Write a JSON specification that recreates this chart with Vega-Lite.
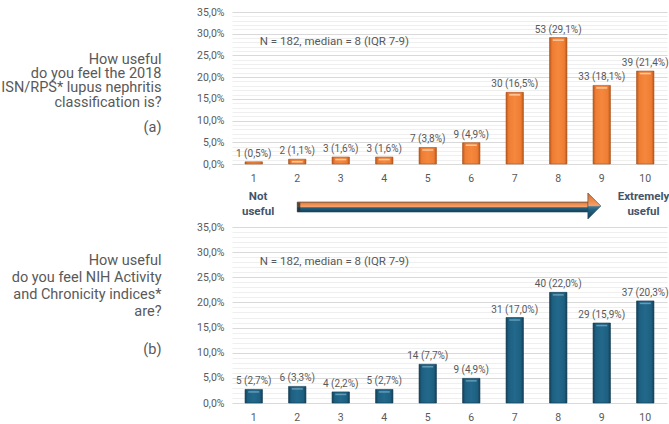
{
  "$schema": "https://vega.github.io/schema/vega-lite/v6.json",
  "background": "white",
  "padding": {"left": 0, "top": 7, "right": 0, "bottom": 0},
  "spacing": 0,
  "vconcat": [
    {
      "width": 435,
      "height": 152,
      "data": {"values": [
        {"score": 1, "n": 1, "pct": 0.5},
        {"score": 2, "n": 2, "pct": 1.1},
        {"score": 3, "n": 3, "pct": 1.6},
        {"score": 4, "n": 3, "pct": 1.6},
        {"score": 5, "n": 7, "pct": 3.8},
        {"score": 6, "n": 9, "pct": 4.9},
        {"score": 7, "n": 30, "pct": 16.5},
        {"score": 8, "n": 53, "pct": 29.1},
        {"score": 9, "n": 33, "pct": 18.1},
        {"score": 10, "n": 39, "pct": 21.4}
      ]},
      "encoding": {
        "x": {
          "field": "score", "type": "ordinal",
          "scale": {"paddingInner": 0.6, "paddingOuter": 0.3},
          "axis": {"title": null, "labelAngle": 0, "ticks": false, "domain": false, "grid": false, "labelPadding": 9, "labelFontSize": 10.5, "labelColor": "#595959"}
        }
      },
      "resolve": {"axis": {"y": "independent"}},
      "layer": [
        {
          "mark": {"type": "tick", "opacity": 0},
          "encoding": {
            "y": {
              "field": "pct", "type": "quantitative",
              "scale": {"domain": [0, 35], "nice": false},
              "axis": {
                "orient": "left",
                "values": [1,2,3,4,6,7,8,9,11,12,13,14,16,17,18,19,21,22,23,24,26,27,28,29,31,32,33,34],
                "grid": true, "gridColor": "#EFEFEF",
                "labels": false, "ticks": false, "domain": false,
                "title": "(a)",
                "titleAngle": 0, "titleAlign": "right", "titleBaseline": "alphabetic",
                "titleX": -71, "titleY": 119.5,
                "titleFontSize": 14.5, "titleFontWeight": "normal", "titleColor": "#595959"
              }
            }
          }
        },
        {
          "mark": {
            "type": "bar",
            "fill": {"gradient": "linear", "x1": 0, "y1": 0, "x2": 1, "y2": 0, "stops": [
              {"offset": 0, "color": "#B9561A"},
              {"offset": 0.15, "color": "#EE7D33"},
              {"offset": 0.5, "color": "#F5883D"},
              {"offset": 0.85, "color": "#EE7D33"},
              {"offset": 1, "color": "#B9561A"}
            ]},
            "stroke": "#A9501A",
            "strokeWidth": 0.6
          },
          "encoding": {
            "y": {
              "field": "pct", "type": "quantitative",
              "axis": {
                "orient": "left",
                "values": [0, 5, 10, 15, 20, 25, 30, 35],
                "labelExpr": "replace(format(datum.value, '.1f'), '.', ',') + '%'",
                "grid": true, "gridColor": "#D9D9D9",
                "ticks": false, "domain": false,
                "labelPadding": 8, "labelFontSize": 10.5, "labelColor": "#595959",
                "title": ["How useful", "do you feel the 2018", "ISN/RPS* lupus nephritis", "classification is?"],
                "titleAngle": 0, "titleAlign": "right", "titleBaseline": "alphabetic",
                "titleX": -71, "titleY": 51.5,
                "titleFontSize": 14.5, "titleFontWeight": "normal", "titleColor": "#595959", "titleLineHeight": 14.2
              }
            }
          }
        },
        {
          "mark": {"type": "tick", "orient": "horizontal", "size": 11, "thickness": 1.5, "color": "#FFC9A0", "yOffset": 2.5},
          "encoding": {
            "y": {"field": "pct", "type": "quantitative", "axis": null},
            "opacity": {"condition": {"test": "datum.pct < 1", "value": 0}, "value": 1}
          }
        },
        {
          "transform": [{"calculate": "datum.n + ' (' + replace(format(datum.pct, '.1f'), '.', ',') + '%)'", "as": "label"}],
          "mark": {"type": "text", "baseline": "bottom", "dy": -3, "fontSize": 10, "color": "#595959"},
          "encoding": {
            "y": {"field": "pct", "type": "quantitative", "axis": null},
            "text": {"field": "label"}
          }
        },
        {
          "data": {"values": [{"note": "N = 182, median = 8 (IQR 7-9)"}]},
          "mark": {"type": "text", "align": "left", "baseline": "middle", "dx": 6, "fontSize": 11.5, "color": "#595959"},
          "encoding": {
            "x": {"datum": 1, "type": "ordinal"},
            "y": {"datum": 28, "type": "quantitative", "axis": null},
            "text": {"field": "note"}
          }
        }
      ]
    },
    {
      "width": 435,
      "height": 38,
      "data": {"values": [{}]},
      "layer": [
        {
          "mark": {
            "type": "rect",
            "fill": {"gradient": "linear", "x1": 0, "y1": 0, "x2": 0, "y2": 1, "stops": [
              {"offset": 0, "color": "#D9702F"},
              {"offset": 0.2, "color": "#F08A48"},
              {"offset": 0.45, "color": "#F3A06A"},
              {"offset": 0.52, "color": "#5B8AA3"},
              {"offset": 0.6, "color": "#22607F"},
              {"offset": 1, "color": "#163F55"}
            ]},
            "stroke": "#1B4A63", "strokeWidth": 0.6
          },
          "encoding": {
            "x": {"datum": 2, "type": "quantitative", "scale": {"domain": [0.5, 10.5], "nice": false, "zero": false}, "axis": null},
            "x2": {"datum": 8.75},
            "y": {"datum": 18, "type": "quantitative", "scale": {"domain": [0, 38], "nice": false, "reverse": true}, "axis": null},
            "y2": {"datum": 28}
          }
        },
        {
          "mark": {"type": "rect", "fill": "#2E2E2E", "opacity": 0.75},
          "encoding": {
            "x": {"datum": 2, "type": "quantitative"},
            "x2": {"datum": 2.07},
            "y": {"datum": 18.5, "type": "quantitative"},
            "y2": {"datum": 27.5}
          }
        },
        {
          "mark": {
            "type": "point",
            "shape": "M-0.5,-1L0.5,0L-0.5,1Z",
            "size": 676,
            "filled": true,
            "opacity": 1,
            "fill": {"gradient": "linear", "x1": 0, "y1": 0, "x2": 0, "y2": 1, "stops": [
              {"offset": 0, "color": "#D9702F"},
              {"offset": 0.3, "color": "#F08A48"},
              {"offset": 0.48, "color": "#F3A06A"},
              {"offset": 0.53, "color": "#3F7896"},
              {"offset": 0.65, "color": "#22607F"},
              {"offset": 1, "color": "#163F55"}
            ]},
            "stroke": "#1B4A63", "strokeWidth": 0.6
          },
          "encoding": {
            "x": {"datum": 8.83, "type": "quantitative"},
            "y": {"datum": 22, "type": "quantitative"}
          }
        },
        {
          "mark": {"type": "text", "align": "center", "baseline": "alphabetic", "fontSize": 11.5, "fontWeight": "bold", "lineHeight": 15, "color": "#44546A"},
          "encoding": {
            "x": {"datum": 1.1, "type": "quantitative"},
            "y": {"datum": 16.3, "type": "quantitative"},
            "text": {"value": ["Not", "useful"]}
          }
        },
        {
          "mark": {"type": "text", "align": "center", "baseline": "alphabetic", "fontSize": 11.5, "fontWeight": "bold", "lineHeight": 15, "color": "#44546A"},
          "encoding": {
            "x": {"datum": 9.96, "type": "quantitative"},
            "y": {"datum": 16.3, "type": "quantitative"},
            "text": {"value": ["Extremely", "useful"]}
          }
        }
      ]
    },
    {
      "width": 435,
      "height": 176,
      "data": {"values": [
        {"score": 1, "n": 5, "pct": 2.7},
        {"score": 2, "n": 6, "pct": 3.3},
        {"score": 3, "n": 4, "pct": 2.2},
        {"score": 4, "n": 5, "pct": 2.7},
        {"score": 5, "n": 14, "pct": 7.7},
        {"score": 6, "n": 9, "pct": 4.9},
        {"score": 7, "n": 31, "pct": 17.0},
        {"score": 8, "n": 40, "pct": 22.0},
        {"score": 9, "n": 29, "pct": 15.9},
        {"score": 10, "n": 37, "pct": 20.3}
      ]},
      "encoding": {
        "x": {
          "field": "score", "type": "ordinal",
          "scale": {"paddingInner": 0.6, "paddingOuter": 0.3},
          "axis": {"title": null, "labelAngle": 0, "ticks": false, "domain": false, "grid": false, "labelPadding": 9, "labelFontSize": 10.5, "labelColor": "#595959"}
        }
      },
      "resolve": {"axis": {"y": "independent"}},
      "layer": [
        {
          "mark": {"type": "tick", "opacity": 0},
          "encoding": {
            "y": {
              "field": "pct", "type": "quantitative",
              "scale": {"domain": [0, 35], "nice": false},
              "axis": {
                "orient": "left",
                "values": [1,2,3,4,6,7,8,9,11,12,13,14,16,17,18,19,21,22,23,24,26,27,28,29,31,32,33,34],
                "grid": true, "gridColor": "#EFEFEF",
                "labels": false, "ticks": false, "domain": false,
                "title": "(b)",
                "titleAngle": 0, "titleAlign": "right", "titleBaseline": "alphabetic",
                "titleX": -71, "titleY": 126,
                "titleFontSize": 14.5, "titleFontWeight": "normal", "titleColor": "#595959"
              }
            }
          }
        },
        {
          "mark": {
            "type": "bar",
            "fill": {"gradient": "linear", "x1": 0, "y1": 0, "x2": 1, "y2": 0, "stops": [
              {"offset": 0, "color": "#123E55"},
              {"offset": 0.15, "color": "#1D5F80"},
              {"offset": 0.5, "color": "#23698C"},
              {"offset": 0.85, "color": "#1D5F80"},
              {"offset": 1, "color": "#123E55"}
            ]},
            "stroke": "#103A50",
            "strokeWidth": 0.6
          },
          "encoding": {
            "y": {
              "field": "pct", "type": "quantitative",
              "axis": {
                "orient": "left",
                "values": [0, 5, 10, 15, 20, 25, 30, 35],
                "labelExpr": "replace(format(datum.value, '.1f'), '.', ',') + '%'",
                "grid": true, "gridColor": "#D9D9D9",
                "ticks": false, "domain": false,
                "labelPadding": 8, "labelFontSize": 10.5, "labelColor": "#595959",
                "title": ["How useful", "do you feel NIH Activity", "and Chronicity indices*", "are?"],
                "titleAngle": 0, "titleAlign": "right", "titleBaseline": "alphabetic",
                "titleX": -71, "titleY": 37.5,
                "titleFontSize": 14.5, "titleFontWeight": "normal", "titleColor": "#595959", "titleLineHeight": 17
              }
            }
          }
        },
        {
          "mark": {"type": "tick", "orient": "horizontal", "size": 11, "thickness": 1.5, "color": "#7DB4CF", "yOffset": 2.5},
          "encoding": {
            "y": {"field": "pct", "type": "quantitative", "axis": null}
          }
        },
        {
          "transform": [{"calculate": "datum.n + ' (' + replace(format(datum.pct, '.1f'), '.', ',') + '%)'", "as": "label"}],
          "mark": {"type": "text", "baseline": "bottom", "dy": -3, "fontSize": 10, "color": "#595959"},
          "encoding": {
            "y": {"field": "pct", "type": "quantitative", "axis": null},
            "text": {"field": "label"}
          }
        },
        {
          "data": {"values": [{"note": "N = 182, median = 8 (IQR 7-9)"}]},
          "mark": {"type": "text", "align": "left", "baseline": "middle", "dx": 6, "fontSize": 11.5, "color": "#595959"},
          "encoding": {
            "x": {"datum": 1, "type": "ordinal"},
            "y": {"datum": 28, "type": "quantitative", "axis": null},
            "text": {"field": "note"}
          }
        }
      ]
    }
  ],
  "config": {
    "font": "Roboto",
    "view": {"stroke": null}
  }
}
